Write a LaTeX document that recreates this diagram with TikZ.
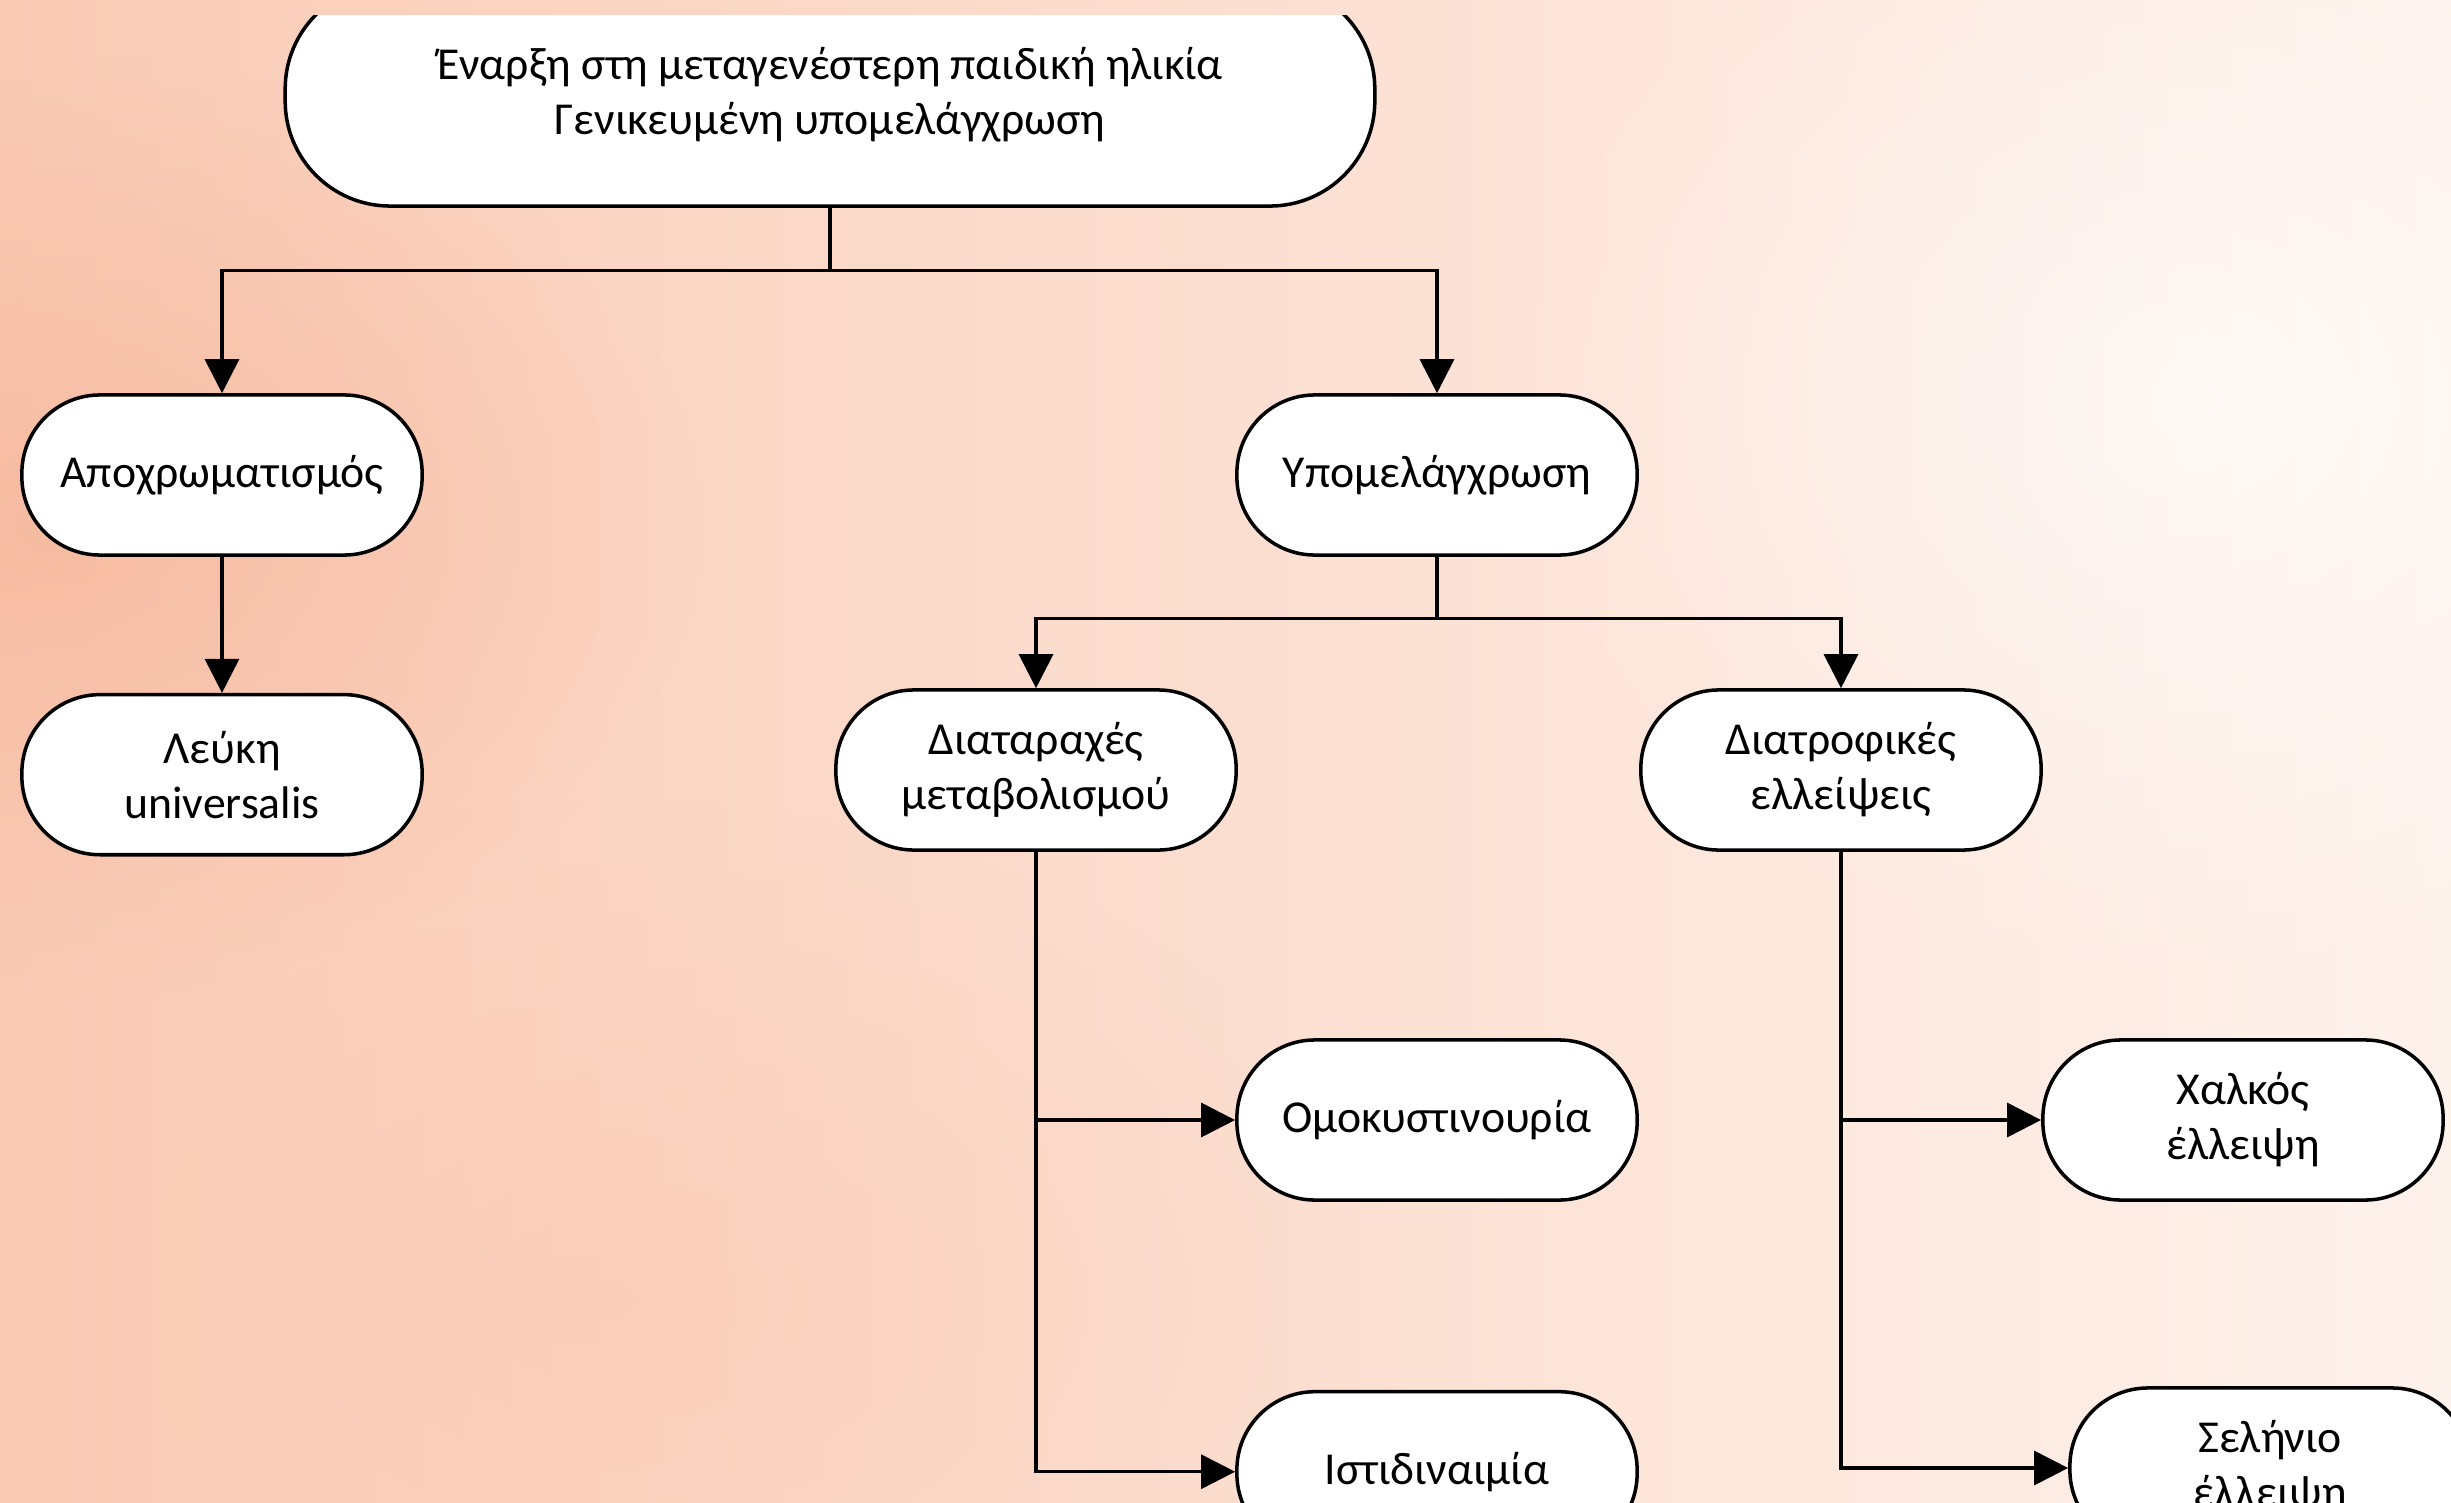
\documentclass[tikz,border=0pt]{standalone}
\usepackage{fontspec}
\setmainfont{Carlito}
\usetikzlibrary{positioning,arrows.meta,fadings}

\definecolor{bgleft}{HTML}{FACBB5}
\definecolor{bgright}{HTML}{FEF2EC}
\definecolor{bgdeep}{HTML}{F6B89D}
\tikzfading[name=glow, inner color=transparent!0, outer color=transparent!100]

\begin{document}
\begin{tikzpicture}[x=0.01cm, y=-0.01cm]
%define
\tikzstyle{pill} = [rectangle, rounded corners=0.78cm, minimum width=4cm, minimum height=1.6cm, text centered, align=center, draw=black, fill=white, line width=1pt, font=\fontsize{13}{15.6}\selectfont]
\tikzstyle{arrow} = [-{Triangle[length=0.34cm, width=0.34cm]}, line width=0.9pt]
\tikzstyle{link} = [line width=0.9pt]

%background
\useasboundingbox (0,0) rectangle (2451,1503);
\shade[left color=bgleft, right color=bgright] (0,0) rectangle (2451,1503);
\fill[bgdeep, path fading=glow, opacity=0.8] (-600,50) rectangle (700,1000);
\fill[bgleft, path fading=glow, opacity=0.6] (-200,800) rectangle (1400,1800);
\fill[white, path fading=glow, opacity=0.6] (1500,-200) rectangle (2900,1000);

\begin{scope}
\clip (0,16) rectangle (2451,1503);

\node[pill, minimum width=10.89cm, minimum height=2.22cm, rounded corners=1.05cm](onset) at (830,95){Έναρξη στη μεταγενέστερη παιδική ηλικία\\Γενικευμένη υπομελάγχρωση};

\node[pill](apo) at (222,475){Αποχρωματισμός};
\node[pill](ypo) at (1437,475){Υπομελάγχρωση};
\node[pill, below=1.36cm of apo](leuki){Λεύκη\\universalis};

\node[pill](metab) at (1036,770){Διαταραχές\\μεταβολισμού};
\node[pill, right=4.01cm of metab](diatr){Διατροφικές\\ελλείψεις};

\node[pill](omok) at (1437,1120){Ομοκυστινουρία};
\node[pill, right=4.02cm of omok](chalk){Χαλκός\\έλλειψη};
\node[pill, below=1.88cm of omok](istid){Ιστιδιναιμία};
\node[pill](selin) at (2270,1468){Σελήνιο\\έλλειψη};

\coordinate[below=0.63cm of onset.south] (split1);
\coordinate[below=0.62cm of ypo.south] (split2);

\draw[link](onset) -- (split1);
\draw[arrow](split1) -| (apo);
\draw[arrow](split1) -| (ypo);
\draw[arrow](apo) -- (leuki);

\draw[link](ypo) -- (split2);
\draw[arrow](split2) -| (metab);
\draw[arrow](split2) -| (diatr);

\draw[arrow](metab) |- (omok);
\draw[arrow](metab) |- (istid);
\draw[arrow](diatr) |- (chalk);
\draw[arrow](diatr) |- (selin);
\end{scope}

\end{tikzpicture}
\end{document}
